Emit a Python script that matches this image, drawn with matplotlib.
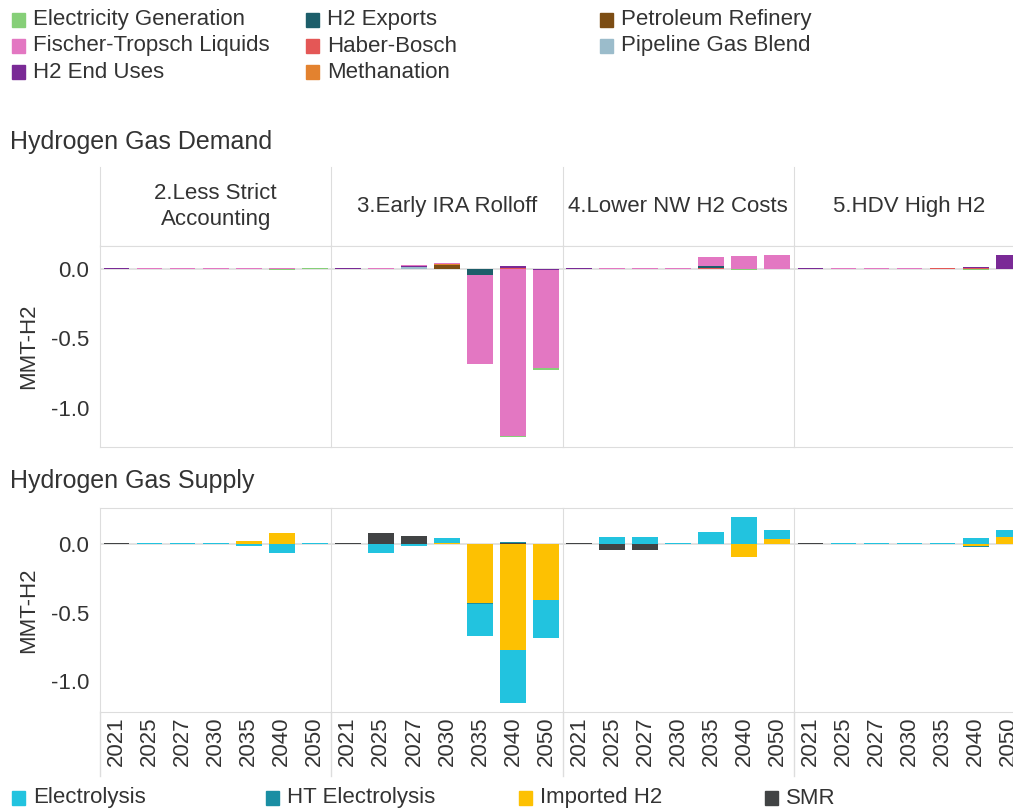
import matplotlib
matplotlib.use("Agg")
import matplotlib.pyplot as plt
from matplotlib.lines import Line2D
from matplotlib.patches import Rectangle
import numpy as np

plt.rcParams['font.family'] = ['Liberation Sans', 'DejaVu Sans']

# --- data ---
years = ["2021", "2025", "2027", "2030", "2035", "2040", "2050"]
scenarios = ["2.Less Strict\nAccounting", "3.Early IRA Rolloff",
             "4.Lower NW H2 Costs", "5.HDV High H2"]

demand_cats = ["Electricity Generation", "Fischer-Tropsch Liquids", "H2 End Uses",
               "H2 Exports", "Haber-Bosch", "Methanation", "Petroleum Refinery",
               "Pipeline Gas Blend"]
demand_colors = ["#86cf78", "#e377c2", "#7a2a96", "#1d5e6a", "#e45756",
                 "#e3822f", "#7c4d14", "#9bbccb"]

# one row per scenario, one value per year (MMT-H2)
elec_gen = [[0, 0, 0, 0, 0, -0.006, 0.008],
            [0, 0, 0, 0, 0, -0.008, -0.01],
            [0, 0, 0, 0, 0, -0.008, 0.006],
            [0, 0, 0, 0, 0, -0.006, 0]]
ft_liquids = [[0, 0.008, 0.008, 0.008, 0.008, 0.006, 0],
              [0, 0.008, 0.004, 0.003, -0.64, -1.2, -0.71],
              [0, 0.008, 0.008, 0.008, 0.062, 0.092, 0.097],
              [0, 0.008, 0.008, 0.008, 0, 0, 0]]
h2_end_uses = [[0.008, 0, 0, 0, 0, 0, 0],
               [0.008, 0, 0.008, 0.005, 0, 0.012, -0.006],
               [0.008, 0, 0, 0, 0, 0, 0],
               [0.008, 0, 0, 0, 0, 0.008, 0.10]]
h2_exports = [[0, 0, 0, 0, 0, 0, 0],
              [0, 0, 0, 0, -0.045, 0, 0],
              [0, 0, 0, 0, 0.018, 0, 0],
              [0, 0, 0, 0, 0, 0, 0]]
haber_bosch = [[0, 0, 0, 0, 0, 0, 0],
               [0, 0, 0, 0, 0, 0.006, 0],
               [0, 0, 0, 0, 0.004, 0, 0],
               [0, 0, 0, 0, 0.01, 0.008, 0]]
methanation = [[0, 0, 0, 0, 0, 0, 0],
               [0, 0, 0, 0.006, 0, 0, 0],
               [0, 0, 0, 0, 0, 0, 0],
               [0, 0, 0, 0, 0, 0, 0]]
petroleum = [[0, 0, 0, 0, 0, 0, 0],
             [0, 0, 0, 0.028, 0, 0, 0],
             [0, 0, 0, 0, 0, 0, 0],
             [0, 0, 0, 0, 0, 0, 0]]
pipeline_blend = [[0, 0, 0, 0, 0, 0, 0],
                  [0, 0, 0.015, 0, 0, 0, 0],
                  [0, 0, 0, 0, 0, 0, 0],
                  [0, 0, 0, 0, 0, 0, 0]]
demand_vals = [elec_gen, ft_liquids, h2_end_uses, h2_exports, haber_bosch,
               methanation, petroleum, pipeline_blend]

supply_cats = ["Electrolysis", "HT Electrolysis", "Imported H2", "SMR"]
supply_colors = ["#22c3df", "#1a8ea3", "#fdc102", "#414344"]

electrolysis = [[0, 0.008, 0.008, 0.008, -0.018, -0.068, 0.008],
                [0, -0.063, -0.018, 0.036, -0.235, -0.39, -0.275],
                [0, 0.05, 0.05, 0.006, 0.09, 0.195, 0.065],
                [0, 0.008, 0.008, 0.008, 0.01, 0.042, 0.05]]
ht_electrolysis = [[0, 0, 0, 0, 0, 0, 0],
                   [0, 0, 0, 0, -0.006, 0.006, -0.006],
                   [0, 0, 0, 0, 0, -0.004, 0.005],
                   [0, 0, 0, 0, 0, -0.006, 0]]
imported_h2 = [[0, 0, 0, 0, 0.022, 0.078, 0],
               [0, 0, 0, 0.008, -0.43, -0.77, -0.405],
               [0, 0, 0, 0, 0, -0.093, 0.035],
               [0, 0, 0, 0, 0, -0.017, 0.05]]
smr = [[0.008, 0, 0, 0, 0, 0, 0],
       [0.008, 0.078, 0.055, 0, 0, 0.006, 0],
       [0.008, -0.04, -0.04, 0, 0, 0, 0],
       [0.008, 0, 0, 0, 0, 0, 0]]
supply_vals = [electrolysis, ht_electrolysis, imported_h2, smr]

# --- layout ---
W, H = 1013, 811
txt = "#333333"
line_c = "#dddddd"
panel_x0, panel_w = 100, 231.3


def fy(py):
    return 1 - py / H


def stacked(ax, values, colors, i):
    x = np.arange(len(years))
    pos = np.zeros(len(years))
    neg = np.zeros(len(years))
    # stack from zero outward in reverse alphabetical order
    for vals, col in list(zip(values, colors))[::-1]:
        v = np.array(vals[i], dtype=float)
        bottom = np.where(v >= 0, pos, neg)
        ax.bar(x, v, bottom=bottom, width=0.78, color=col, zorder=2)
        pos = pos + np.where(v > 0, v, 0)
        neg = neg + np.where(v < 0, v, 0)


def style(ax, first, ylim, show_x):
    ax.set_xlim(-0.5, len(years) - 0.5)
    ax.set_ylim(*ylim)
    ax.axhline(0, color=line_c, lw=1.2, zorder=1)
    ax.spines["right"].set_visible(False)
    for s in ["left", "top", "bottom"]:
        ax.spines[s].set_color(line_c)
    ax.set_yticks([0, -0.5, -1.0])
    ax.tick_params(length=0, labelsize=16, colors=txt, pad=8)
    if first:
        ax.set_yticklabels(["0.0", "-0.5", "-1.0"])
        ax.set_ylabel("MMT-H2", fontsize=16, color=txt, labelpad=8)
    else:
        ax.set_yticklabels([])
    ax.set_xticks(np.arange(len(years)))
    if show_x:
        ax.set_xticklabels(years, rotation=90)
        ax.tick_params(axis="x", pad=3)
    else:
        ax.set_xticklabels([])


fig = plt.figure(figsize=(10.13, 8.11), dpi=100)

for i, scen in enumerate(scenarios):
    x0 = panel_x0 + i * panel_w
    # header strip
    hax = fig.add_axes([x0 / W, fy(246), panel_w / W, 79 / H])
    hax.set_xticks([])
    hax.set_yticks([])
    hax.patch.set_alpha(0)
    for s in ["top", "right"]:
        hax.spines[s].set_visible(False)
    for s in ["left", "bottom"]:
        hax.spines[s].set_color(line_c)
    hax.text(0.5, 0.5, scen, ha="center", va="center", fontsize=16,
             color=txt, transform=hax.transAxes, linespacing=1.3)

    dax = fig.add_axes([x0 / W, fy(447), panel_w / W, 201 / H])
    stacked(dax, demand_vals, demand_colors, i)
    style(dax, i == 0, (-1.281, 0.165), False)

    sax = fig.add_axes([x0 / W, fy(712), panel_w / W, 204 / H])
    stacked(sax, supply_vals, supply_colors, i)
    style(sax, i == 0, (-1.226, 0.263), True)

    fig.add_artist(Line2D([x0 / W, x0 / W], [fy(712), fy(776)],
                          color=line_c, lw=1))

fig.text(10 / W, fy(142), "Hydrogen Gas Demand", fontsize=18, color=txt,
         ha="left", va="center")
fig.text(10 / W, fy(481), "Hydrogen Gas Supply", fontsize=18, color=txt,
         ha="left", va="center")


def legend_item(px, py, label, col):
    fig.add_artist(Rectangle((px / W, fy(py + 7)), 13 / W, 14 / H,
                             color=col, transform=fig.transFigure))
    fig.text((px + 21) / W, fy(py), label, fontsize=16, color=txt,
             ha="left", va="center")


top_cols = [12, 306, 600]
for k, (lab, col) in enumerate(zip(demand_cats, demand_colors)):
    legend_item(top_cols[k // 3], 20 + 26 * (k % 3), lab, col)

bot_cols = [12, 266, 519, 765]
for k, (lab, col) in enumerate(zip(supply_cats, supply_colors)):
    legend_item(bot_cols[k], 798, lab, col)

fig.savefig("out.png", dpi=100)
